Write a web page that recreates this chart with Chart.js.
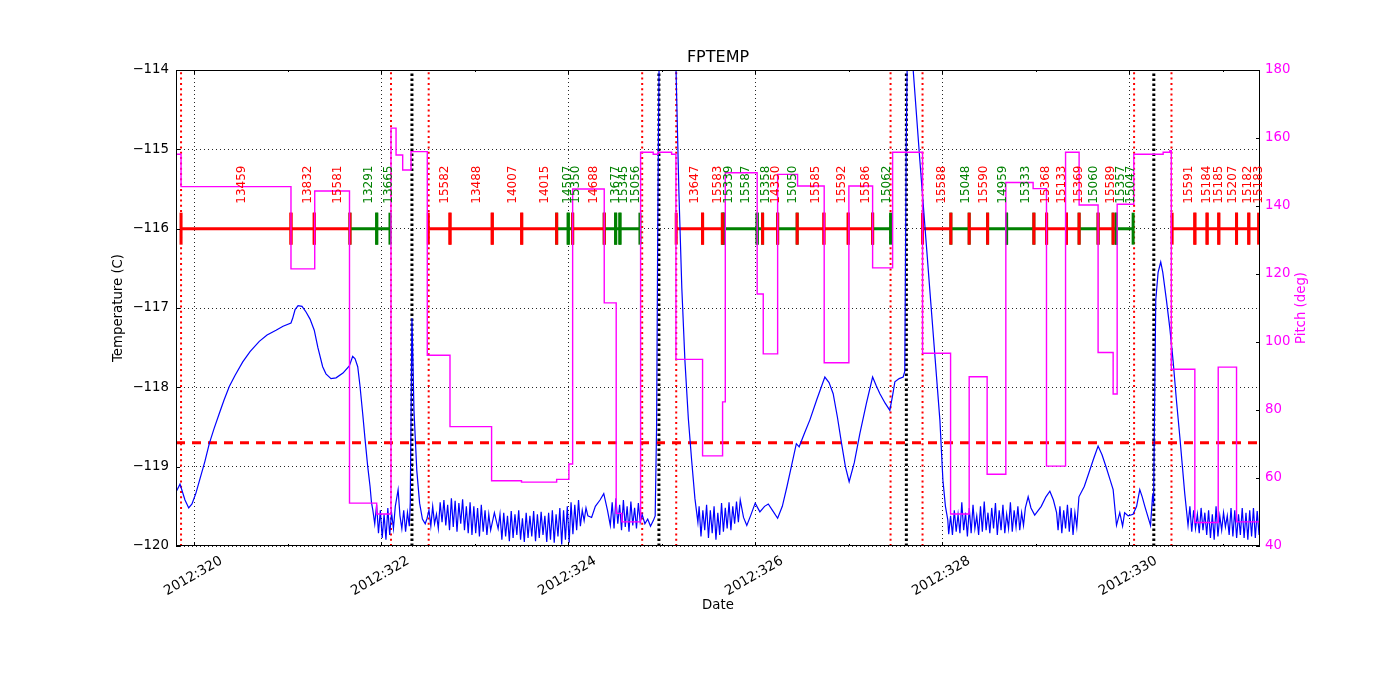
<!DOCTYPE html>
<html><head><meta charset="utf-8">
<script src="https://cdn.jsdelivr.net/npm/chart.js@4.4.0/dist/chart.umd.min.js"></script>
<style>html,body{margin:0;padding:0;background:#fff}</style>
</head><body>
<canvas id="c" width="1400" height="700"></canvas>
<script>
// ---------- data (day of year 2012) ----------
const X_MIN = 319.804, X_MAX = 331.40;
const chartTitle = 'FPTEMP';
const xTickDays = [320,321,322,323,324,325,326,327,328,329,330,331];
const tempTicks = [-120,-119,-118,-117,-116,-115,-114];
const pitchTicks = [40,60,80,100,120,140,160,180];
const limitTemp = -118.7;
const obsidLevel = -116;

// FPTEMP [day, degC]
const fptemp = [
[319.80,-119.33],[319.847,-119.22],[319.90,-119.42],[319.94,-119.52],[319.975,-119.47],[320.018,-119.33],[320.061,-119.15],[320.114,-118.93],[320.16,-118.71],[320.211,-118.52],[320.267,-118.33],[320.318,-118.16],[320.374,-117.99],[320.435,-117.85],[320.518,-117.68],[320.596,-117.55],[320.695,-117.42],[320.778,-117.34],[320.874,-117.28],[320.949,-117.23],[321.034,-117.19],[321.052,-117.13],[321.078,-117.02],[321.11,-116.97],[321.152,-116.98],[321.195,-117.05],[321.238,-117.14],[321.283,-117.28],[321.322,-117.50],[321.373,-117.74],[321.408,-117.83],[321.462,-117.89],[321.516,-117.88],[321.59,-117.82],[321.658,-117.73],[321.694,-117.61],[321.72,-117.64],[321.748,-117.74],[321.772,-117.98],[321.801,-118.33],[321.826,-118.65],[321.855,-119.00],[321.88,-119.25],[321.895,-119.45],
[321.91,-119.55],[321.93,-119.72],[321.95,-119.48],[321.97,-119.84],[321.99,-119.55],[322.01,-119.90],[322.03,-119.60],[322.05,-119.92],[322.07,-119.52],[322.09,-119.86],[322.11,-119.58],[322.13,-119.78],[322.15,-119.50],[322.18,-119.29],[322.20,-119.62],[322.22,-119.78],[322.24,-119.55],[322.26,-119.82],[322.28,-119.58],[322.30,-119.75],[322.31,-119.45],
[322.328,-117.13],[322.35,-118.30],[322.38,-119.05],[322.41,-119.46],[322.44,-119.66],[322.47,-119.72],
[322.49,-119.65],[322.51,-119.55],[322.53,-119.75],[322.55,-119.50],[322.57,-119.72],[322.59,-119.60],[322.61,-119.78],[322.63,-119.45],[322.65,-119.70],[322.67,-119.42],[322.69,-119.74],[322.71,-119.48],[322.73,-119.80],[322.75,-119.40],[322.77,-119.76],[322.79,-119.43],[322.81,-119.82],[322.83,-119.46],[322.85,-119.72],[322.87,-119.41],[322.89,-119.80],[322.91,-119.50],[322.93,-119.84],[322.95,-119.45],
[322.97,-119.86],[322.99,-119.50],[323.01,-119.84],[323.03,-119.52],[323.05,-119.88],[323.07,-119.48],[323.09,-119.82],[323.11,-119.55],[323.13,-119.86],[323.15,-119.60],[323.17,-119.80],[323.21,-119.58],[323.25,-119.78],
[323.27,-119.60],[323.29,-119.92],[323.31,-119.58],[323.33,-119.88],[323.35,-119.62],[323.37,-119.94],[323.39,-119.56],[323.41,-119.90],[323.43,-119.60],[323.45,-119.86],[323.47,-119.55],[323.49,-119.92],[323.51,-119.65],[323.53,-119.95],[323.55,-119.58],[323.57,-119.90],[323.59,-119.62],[323.61,-119.88],[323.63,-119.56],[323.65,-119.94],[323.67,-119.60],[323.69,-119.90],[323.71,-119.57],[323.73,-119.86],[323.75,-119.62],[323.77,-119.95],[323.79,-119.58],[323.81,-119.92],[323.83,-119.55],[323.85,-119.96],[323.87,-119.60],[323.89,-119.88],[323.91,-119.52],[323.93,-119.98],[323.95,-119.55],[323.97,-119.92],[323.99,-119.50],[324.01,-119.96],
[324.03,-119.45],[324.05,-119.85],[324.07,-119.48],[324.09,-119.80],[324.11,-119.42],[324.13,-119.75],[324.15,-119.55],[324.17,-119.68],[324.19,-119.52],[324.21,-119.62],
[324.25,-119.64],[324.29,-119.50],[324.34,-119.42],[324.38,-119.34],[324.42,-119.55],[324.45,-119.74],
[324.47,-119.45],[324.49,-119.78],[324.51,-119.40],[324.53,-119.72],[324.55,-119.48],[324.57,-119.80],[324.59,-119.42],[324.61,-119.76],[324.63,-119.50],[324.65,-119.82],[324.67,-119.44],[324.69,-119.74],[324.71,-119.52],[324.73,-119.78],[324.75,-119.46],[324.77,-119.70],[324.79,-119.60],
[324.82,-119.72],[324.85,-119.66],[324.88,-119.75],[324.91,-119.68],[324.93,-119.62],
[324.945,-118.5],[324.96,-115.5],[324.975,-113.5],[325.05,-112.9],[325.13,-113.4],[325.153,-114.0],[325.184,-115.55],[325.215,-116.75],[325.248,-117.66],[325.285,-118.40],[325.32,-118.92],[325.355,-119.40],[325.387,-119.70],
[325.40,-119.50],[325.42,-119.88],[325.44,-119.55],[325.46,-119.80],[325.48,-119.48],[325.50,-119.90],[325.52,-119.55],[325.54,-119.84],[325.56,-119.50],[325.58,-119.92],[325.60,-119.58],[325.62,-119.86],[325.64,-119.46],[325.66,-119.82],[325.68,-119.52],[325.70,-119.78],[325.72,-119.45],[325.74,-119.80],[325.76,-119.50],[325.78,-119.72],[325.80,-119.44],[325.82,-119.70],[325.84,-119.42],
[325.875,-119.64],[325.91,-119.74],[325.95,-119.62],[326.00,-119.46],[326.05,-119.57],[326.10,-119.50],[326.14,-119.47],[326.19,-119.56],[326.24,-119.65],[326.29,-119.50],[326.34,-119.25],[326.39,-118.98],[326.44,-118.71],[326.47,-118.75],[326.53,-118.57],[326.585,-118.41],[326.66,-118.15],[326.745,-117.87],[326.79,-117.94],[326.834,-118.08],[326.88,-118.38],[326.924,-118.71],[326.965,-119.00],[327.005,-119.19],[327.06,-118.95],[327.12,-118.58],[327.19,-118.20],[327.256,-117.87],[327.295,-117.98],[327.334,-118.08],[327.39,-118.20],[327.44,-118.29],[327.47,-118.10],[327.494,-117.93],[327.54,-117.89],[327.583,-117.87],[327.60,-117.80],
[327.615,-115.0],[327.63,-113.5],[327.66,-112.9],[327.685,-113.8],[327.69,-114.0],[327.762,-115.15],[327.869,-116.79],[327.976,-118.42],[328.008,-119.17],[328.035,-119.50],[328.06,-119.67],
[328.07,-119.85],[328.09,-119.62],[328.11,-119.86],[328.13,-119.55],[328.15,-119.82],[328.17,-119.60],[328.19,-119.84],[328.21,-119.45],[328.23,-119.80],[328.25,-119.58],[328.27,-119.88],[328.29,-119.52],[328.31,-119.84],[328.33,-119.48],[328.35,-119.78],[328.37,-119.62],[328.39,-119.86],[328.41,-119.50],[328.43,-119.82],[328.45,-119.44],[328.47,-119.80],[328.49,-119.58],[328.51,-119.84],[328.53,-119.52],[328.55,-119.78],[328.57,-119.46],[328.59,-119.86],[328.61,-119.55],[328.63,-119.80],[328.65,-119.48],[328.67,-119.84],[328.69,-119.60],[328.71,-119.78],[328.73,-119.45],[328.75,-119.82],[328.77,-119.55],[328.79,-119.76],[328.81,-119.50],[328.83,-119.80],[328.85,-119.58],[328.87,-119.74],[328.89,-119.52],
[328.92,-119.38],[328.95,-119.52],[328.99,-119.61],[329.06,-119.50],[329.11,-119.38],[329.152,-119.31],[329.19,-119.42],[329.224,-119.58],
[329.24,-119.80],[329.26,-119.50],[329.28,-119.84],[329.30,-119.55],[329.32,-119.78],[329.34,-119.48],[329.36,-119.82],[329.38,-119.52],[329.40,-119.86],[329.42,-119.58],[329.44,-119.76],[329.463,-119.38],
[329.52,-119.25],[329.569,-119.08],[329.62,-118.90],[329.668,-118.74],[329.71,-118.85],[329.758,-119.02],[329.80,-119.18],[329.829,-119.29],[329.865,-119.74],[329.90,-119.58],[329.93,-119.75],[329.952,-119.58],[329.99,-119.62],[330.042,-119.60],[330.08,-119.50],[330.114,-119.29],[330.14,-119.38],[330.168,-119.50],[330.229,-119.74],[330.25,-119.38],[330.262,-119.45],
[330.27,-118.5],[330.285,-116.9],[330.31,-116.55],[330.338,-116.42],[330.36,-116.55],[330.399,-116.9],[330.435,-117.25],[330.47,-117.66],[330.505,-118.15],[330.542,-118.62],[330.57,-119.00],[330.595,-119.34],[330.63,-119.74],
[330.65,-119.50],[330.67,-119.82],[330.69,-119.55],[330.71,-119.78],[330.73,-119.60],[330.75,-119.84],[330.77,-119.52],[330.79,-119.80],[330.81,-119.58],[330.83,-119.86],[330.85,-119.55],[330.87,-119.90],[330.89,-119.60],[330.91,-119.92],[330.93,-119.50],[330.95,-119.88],[330.97,-119.62],[330.99,-119.80],[331.01,-119.58],[331.03,-119.76],[331.05,-119.62],[331.07,-119.86],[331.09,-119.52],[331.11,-119.88],[331.13,-119.55],[331.15,-119.90],[331.17,-119.60],[331.19,-119.86],[331.21,-119.52],[331.23,-119.90],[331.25,-119.58],[331.27,-119.92],[331.29,-119.55],[331.31,-119.88],[331.33,-119.52],[331.35,-119.90],[331.37,-119.56],[331.39,-119.86],[331.41,-119.60]
];

// Pitch [day, deg] (value holds from this time)
const pitch = [
[319.80,155.2],[319.858,145.7],[321.034,121.5],[321.288,144.4],[321.66,52.6],[321.951,49.4],[322.104,162.9],[322.158,155.0],[322.229,150.6],[322.318,156.0],[322.492,96.1],[322.735,75.1],[323.18,59.2],[323.50,58.8],[323.876,59.6],[324.007,64.1],[324.047,145.0],[324.385,111.5],[324.513,49.6],[324.574,47.1],[324.774,155.8],[324.909,155.2],[324.959,155.8],[325.106,155.2],[325.152,94.9],[325.437,66.5],[325.651,82.4],[325.68,149.8],[326.021,114.1],[326.086,96.5],[326.24,149.3],[326.453,145.9],[326.738,93.9],[327.002,145.9],[327.256,121.8],[327.47,155.8],[327.79,96.7],[328.09,49.4],[328.289,89.8],[328.481,61.1],[328.681,146.9],[328.973,145.1],[329.116,63.5],[329.32,155.8],[329.465,140.3],[329.668,96.9],[329.829,84.7],[329.872,140.5],[330.05,155.2],[330.364,155.8],[330.435,156.3],[330.451,92.0],[330.703,46.9],[330.953,92.6],[331.149,47.1],[331.40,47.1]
];

// Observations
const obsidBounds = [
[319.858,321.034],[321.034,321.283],[321.283,321.665],[321.665,321.951],[321.951,322.093],
[322.503,322.735],[322.735,323.187],[323.187,323.502],[323.502,323.876],[323.876,324.000],[324.000,324.047],[324.047,324.385],[324.385,324.507],[324.507,324.553],[324.553,324.767],
[325.155,325.437],[325.437,325.649],[325.649,325.665],[325.665,326.021],[326.021,326.079],[326.079,326.240],[326.240,326.449],[326.449,326.735],[326.735,326.995],[326.995,327.256],[327.256,327.448],
[327.790,328.093],[328.093,328.289],[328.289,328.486],[328.486,328.689],[328.689,328.981],[328.981,329.117],[329.117,329.330],[329.330,329.465],[329.465,329.668],[329.668,329.829],[329.829,329.865],[329.865,330.043],
[330.460,330.703],[330.703,330.834],[330.834,330.959],[330.959,331.149],[331.149,331.280],[331.280,331.385]
];
const obsidLabels = ['13459','13832','15581','13291','13665','15582','13488','14007','14015','14507','15350','14688','13677','15345','15056','13647','15583','15339','15587','15358','14350','15050','15585','15592','15586','15062','15588','15048','15590','14959','15333','15368','15133','15369','15060','15589','15357','15047','15591','15184','15185','15207','15182','15183'];
const obsidKinds = ['R','R','R','G','G','R','R','R','R','G','G','R','G','G','G','R','R','G','G','G','R','G','R','R','R','G','R','G','R','G','G','R','R','R','G','R','G','G','R','R','R','R','R','R'];

const radZoneLines = [319.858,322.104,322.507,324.791,325.155,327.448,327.790,330.053,330.453];
const perigeeLines = [322.328,324.970,327.617,330.264];

// ---------- build ----------
const RED = '#ff0000', GREEN = '#008000', BLUE = '#0000ff', MAGENTA = '#ff00ff';
const FONT = 'DejaVu Sans';

function segData(kind){
  const d = [];
  obsidBounds.forEach((b,i)=>{
    if (obsidKinds[i] !== kind) return;
    d.push({x:b[0],y:obsidLevel},{x:b[1],y:obsidLevel},{x:b[1]+1e-4,y:null});
  });
  return d;
}
function vlines(list){
  const d = [];
  list.forEach(t=>{ d.push({x:t,y:-120},{x:t,y:-114},{x:t+1e-4,y:null}); });
  return d;
}

const overlayPlugin = {
  id:'overlay',
  afterDatasetsDraw(chart){
    const {ctx, scales:{x,y}} = chart;
    const ca = chart.chartArea;
    ctx.save();
    // frame
    ctx.strokeStyle = '#000'; ctx.lineWidth = 1;
    ctx.strokeRect(ca.left+0.5, ca.top+0.5, ca.right-ca.left-1, ca.bottom-ca.top-1);
    // ticks inward
    ctx.beginPath();
    xTickDays.forEach(d=>{
      const px = Math.round(x.getPixelForValue(d))+0.5;
      const len = d%2===0 ? 4 : 2;
      ctx.moveTo(px, ca.bottom); ctx.lineTo(px, ca.bottom-len);
      ctx.moveTo(px, ca.top); ctx.lineTo(px, ca.top+len);
    });
    tempTicks.forEach(v=>{
      const py = Math.round(y.getPixelForValue(v))+0.5;
      ctx.moveTo(ca.left, py); ctx.lineTo(ca.left+4, py);
    });
    const y2 = chart.scales.y2;
    pitchTicks.forEach(v=>{
      const py = Math.round(y2.getPixelForValue(v))+0.5;
      ctx.moveTo(ca.right, py); ctx.lineTo(ca.right-4, py);
    });
    ctx.stroke();
    // title centred over the plot area
    ctx.font = '16px "' + FONT + '"';
    ctx.fillStyle = '#000';
    ctx.textAlign = 'center';
    ctx.textBaseline = 'middle';
    ctx.fillText(chartTitle, (ca.left+ca.right)/2, 58);
    // obsid labels
    ctx.font = '12px "' + FONT + '"';
    ctx.textAlign = 'left';
    ctx.textBaseline = 'alphabetic';
    const baseY = y.getPixelForValue(obsidLevel) - 25;
    obsidBounds.forEach((b,i)=>{
      const px = x.getPixelForValue((b[0]+b[1])/2);
      ctx.save();
      ctx.translate(px, baseY);
      ctx.rotate(-Math.PI/2);
      ctx.fillStyle = obsidKinds[i]==='R' ? RED : GREEN;
      ctx.fillText(obsidLabels[i], 0, 8.8);
      ctx.restore();
    });
    // right axis title (reads bottom-to-top)
    ctx.save();
    ctx.translate(1302, (ca.top+ca.bottom)/2);
    ctx.rotate(-Math.PI/2);
    ctx.font = '13.3px "' + FONT + '"';
    ctx.fillStyle = MAGENTA;
    ctx.textAlign = 'center';
    ctx.textBaseline = 'middle';
    ctx.fillText('Pitch (deg)', 0, 0);
    ctx.restore();
    ctx.restore();
  }
};

const segStyle = (color)=>({
  borderColor:color, borderWidth:3, pointStyle:'line', pointRotation:90,
  pointRadius:16, pointBorderWidth:3, pointBorderColor:color, pointBackgroundColor:color,
  pointHoverRadius:16, spanGaps:false, yAxisID:'y'
});

new Chart(document.getElementById('c'), {
  type:'line',
  data:{ datasets:[
    { label:'Pitch', data:pitch.map(p=>({x:p[0],y:p[1]})), yAxisID:'y2', stepped:true,
      borderColor:MAGENTA, borderWidth:1.4, pointRadius:0, order:0 },
    { label:'FPTEMP', data:fptemp.map(p=>({x:p[0],y:p[1]})), yAxisID:'y',
      borderColor:BLUE, borderWidth:1.2, pointRadius:0, tension:0, order:1 },
    Object.assign({label:'obs red', data:segData('R'), order:2}, segStyle(RED)),
    Object.assign({label:'obs green', data:segData('G'), order:2}, segStyle(GREEN)),
    { label:'limit', data:[{x:X_MIN,y:limitTemp},{x:X_MAX,y:limitTemp}], yAxisID:'y',
      borderColor:RED, borderWidth:3, borderDash:[9,7], pointRadius:0, order:3 },
    { label:'rad', data:vlines(radZoneLines), yAxisID:'y', borderColor:RED, borderWidth:2,
      borderDash:[2,3.3], pointRadius:0, spanGaps:false, order:4 },
    { label:'perigee', data:vlines(perigeeLines), yAxisID:'y', borderColor:'#000', borderWidth:3,
      borderDash:[2.5,2.5], pointRadius:0, spanGaps:false, order:4 }
  ]},
  options:{
    responsive:false, animation:false, devicePixelRatio:1,
    layout:{padding:{top:70,left:0,right:0,bottom:0}},
    plugins:{
      legend:{display:false}, tooltip:{enabled:false}, title:{display:false}
    },
    scales:{
      x:{ type:'linear', min:X_MIN, max:X_MAX,
        ticks:{ stepSize:1, includeBounds:false, autoSkip:false, minRotation:30, maxRotation:30,
          labelOffset:27, padding:7, color:'#000', font:{family:FONT,size:13.5},
          callback:(v)=>{ const d=Math.round(v); return d%2===0 ? '2012:'+d : ''; } },
        grid:{ drawTicks:false, lineWidth:1,
          color:(c)=> (c.tick && Math.round(c.tick.value)%2===0) ? 'rgba(0,0,0,0.85)' : 'rgba(0,0,0,0)' },
        border:{display:false, dash:[1,3]},
        title:{display:true, text:'Date', color:'#000', font:{family:FONT,size:13.3}, padding:{top:0,bottom:86}},
        afterFit:(s)=>{ s.height = 154; }
      },
      y:{ position:'left', min:-120, max:-114,
        ticks:{ stepSize:1, padding:7, color:'#000', font:{family:FONT,size:13.3},
          callback:(v)=> (v<0?'\u2212':'') + Math.abs(Math.round(v)) },
        grid:{ drawTicks:false, lineWidth:1, color:'rgba(0,0,0,0.85)' },
        border:{display:false, dash:[1,3]},
        title:{display:true, text:'Temperature (C)', color:'#000', font:{family:FONT,size:13.3}, padding:{top:111,bottom:0}},
        afterFit:(s)=>{ s.width = 176; }
      },
      y2:{ position:'right', min:40, max:180,
        ticks:{ stepSize:20, padding:5, color:MAGENTA, font:{family:FONT,size:13.3} },
        grid:{ display:false, drawTicks:false },
        border:{display:false},
        title:{display:false},
        afterFit:(s)=>{ s.width = 140; }
      }
    }
  },
  plugins:[overlayPlugin]
});
</script>
</body></html>
